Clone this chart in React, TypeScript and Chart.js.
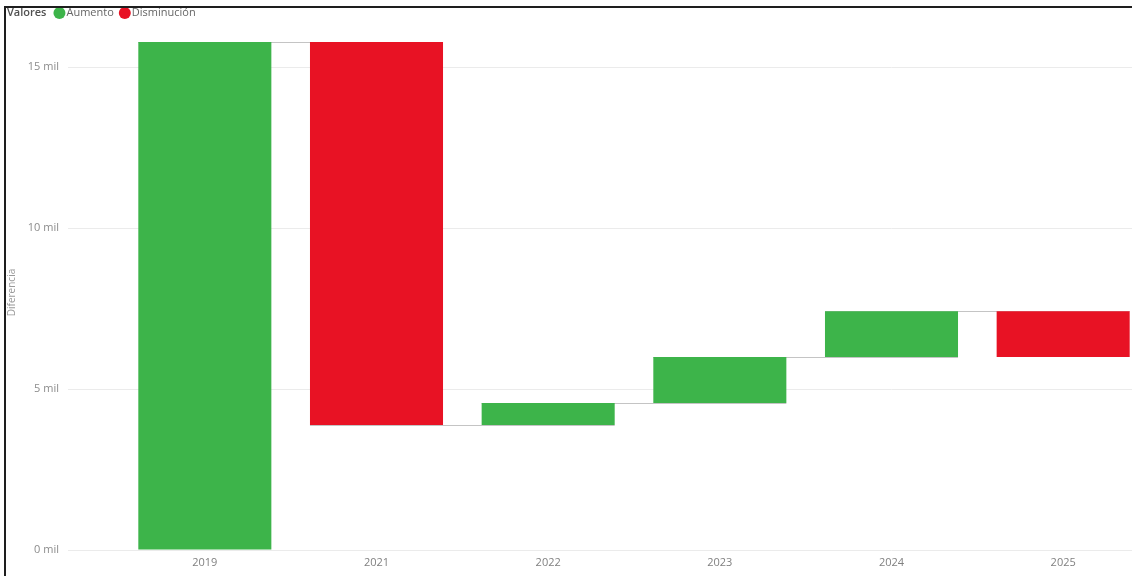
import React, { useEffect, useRef } from "react";
import { Chart, registerables } from "chart.js";

Chart.register(...registerables);

const categories = ["2019", "2021", "2022", "2023", "2024", "2025"];
const changes = [15780, -11900, 690, 1430, 1420, -1420];
const yTicks = [0, 5000, 10000, 15000];
const legendTitle = "Valores";
const legendLabels = ["Aumento", "Disminución"];
const axisTitle = "Diferencia";

const GREEN = "#3DB44A";
const RED = "#E81224";
const FONT = "'Open Sans', 'Noto Sans', sans-serif";

let running = 0;
const ranges: [number, number][] = changes.map((c) => {
  const start = running;
  running += c;
  return [start, running];
});

const connectorPlugin = {
  id: "connectors",
  beforeDatasetsDraw(chart: any) {
    const meta = chart.getDatasetMeta(0);
    const yScale = chart.scales.y;
    const ctx = chart.ctx;
    ctx.save();
    ctx.strokeStyle = "#c4c4c4";
    ctx.lineWidth = 1;
    for (let i = 0; i < meta.data.length - 1; i++) {
      const a = meta.data[i];
      const b = meta.data[i + 1];
      const y = Math.round(yScale.getPixelForValue(ranges[i][1])) + 0.5;
      ctx.beginPath();
      ctx.moveTo(a.x - a.width / 2, y);
      ctx.lineTo(b.x + b.width / 2, y);
      ctx.stroke();
    }
    ctx.restore();
  },
};

const legendPlugin = {
  id: "customLegend",
  afterDraw(chart: any) {
    const ctx = chart.ctx;
    ctx.save();
    ctx.textBaseline = "middle";
    ctx.textAlign = "left";
    const y = 13;
    let x = 7;
    ctx.font = `600 11px ${FONT}`;
    ctx.fillStyle = "#505050";
    ctx.fillText(legendTitle, x, y);
    x += ctx.measureText(legendTitle).width + 7;
    const colors = [GREEN, RED];
    ctx.font = `11px ${FONT}`;
    legendLabels.forEach((lab, i) => {
      ctx.fillStyle = colors[i];
      ctx.beginPath();
      ctx.arc(x + 6, y, 6, 0, Math.PI * 2);
      ctx.fill();
      x += 13;
      ctx.fillStyle = "#666666";
      ctx.fillText(lab, x, y);
      x += ctx.measureText(lab).width + 5;
    });
    ctx.restore();
  },
};

export default function App() {
  const ref = useRef<HTMLCanvasElement | null>(null);
  useEffect(() => {
    if (!ref.current) return;
    const chart = new Chart(ref.current, {
      type: "bar",
      data: {
        labels: categories,
        datasets: [
          {
            data: ranges as any,
            backgroundColor: changes.map((c) => (c >= 0 ? GREEN : RED)),
            barPercentage: 0.775,
            categoryPercentage: 1,
            borderWidth: 0,
          },
        ],
      },
      options: {
        responsive: false,
        animation: false,
        layout: { padding: { top: 35, left: 0, right: 0, bottom: 0 } },
        plugins: { legend: { display: false }, tooltip: { enabled: false } },
        scales: {
          x: {
            grid: { display: false, drawTicks: false },
            border: { display: false },
            ticks: { color: "#808080", font: { family: FONT, size: 11 }, padding: 6 },
            afterFit: (s: any) => {
              s.height = 26;
            },
          },
          y: {
            min: 0,
            max: 16000,
            afterBuildTicks: (s: any) => {
              s.ticks = yTicks.map((v) => ({ value: v }));
            },
            afterFit: (s: any) => {
              s.width = 119;
            },
            grid: { color: "#ebebeb", tickLength: 51, lineWidth: 1 },
            border: { display: false },
            ticks: {
              color: "#8c8c8c",
              font: { family: FONT, size: 11 },
              padding: 9,
              callback: (v: any) => `${Number(v) / 1000} mil`,
            },
            title: {
              display: true,
              text: axisTitle,
              color: "#9a9a9a",
              font: { family: FONT, size: 10 },
              padding: { top: 6, bottom: 0 },
            },
          },
        },
      },
      plugins: [connectorPlugin, legendPlugin],
    });
    return () => chart.destroy();
  }, []);

  return (
    <div
      style={{
        position: "fixed",
        left: 0,
        top: 0,
        width: 1132,
        height: 576,
        overflow: "hidden",
        background: "#ffffff",
      }}
    >
      <canvas ref={ref} width={1149} height={576} style={{ position: "absolute", left: 0, top: 0 }} />
      <div
        style={{
          position: "absolute",
          left: 4,
          top: 6,
          width: 1140,
          height: 590,
          borderLeft: "2px solid #1e1e1e",
          borderTop: "2px solid #1e1e1e",
          pointerEvents: "none",
        }}
      />
    </div>
  );
}
